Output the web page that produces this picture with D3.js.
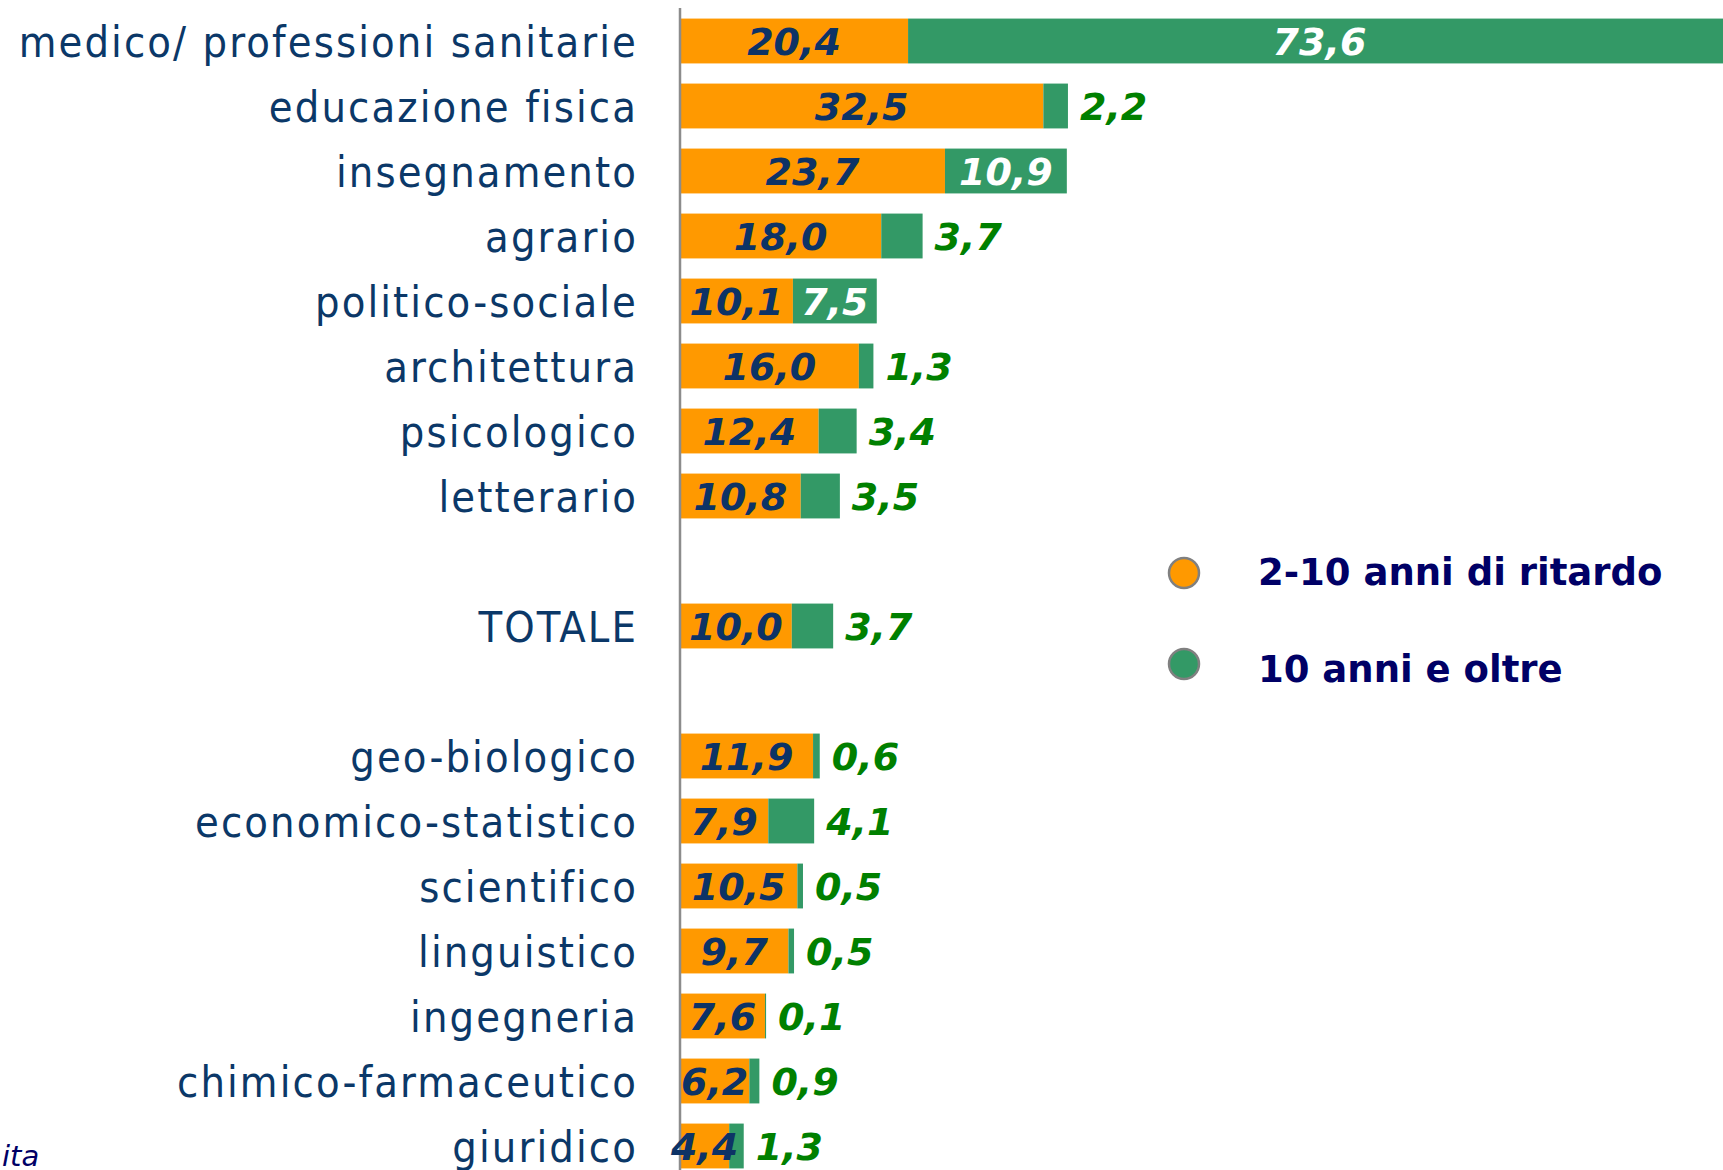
<!DOCTYPE html>
<html>
<head>
<meta charset="utf-8">
<script src="https://cdn.jsdelivr.net/npm/d3@7"></script>
<style>
  body { margin: 0; background: #fff; overflow: hidden; }
  svg { display: block; }
</style>
</head>
<body>
<div id="chart"></div>
<script>
/* ############### data ############### */
var categories = ["medico/ professioni sanitarie", "educazione fisica", "insegnamento", "agrario",
  "politico-sociale", "architettura", "psicologico", "letterario", "TOTALE",
  "geo-biologico", "economico-statistico", "scientifico", "linguistico", "ingegneria",
  "chimico-farmaceutico", "giuridico"];
var late2to10 = [20.4, 32.5, 23.7, 18.0, 10.1, 16.0, 12.4, 10.8, 10.0, 11.9, 7.9, 10.5, 9.7, 7.6, 6.2, 4.4];
var late10plus = [73.6, 2.2, 10.9, 3.7, 7.5, 1.3, 3.4, 3.5, 3.7, 0.6, 4.1, 0.5, 0.5, 0.1, 0.9, 1.3];
// empty slots around TOTALE
var slots = categories.slice(0, 8).concat(["_gap1", "TOTALE", "_gap2"]).concat(categories.slice(9));
var seriesNames = ["2-10 anni di ritardo", "10 anni e oltre"];
var seriesColors = ["#ff9900", "#339966"];
/* ########################################################## */

var width = 1723, height = 1170;
var fmt = function(v) { return d3.format(".1f")(v).replace(".", ","); };

var svg = d3.select("#chart").append("svg")
  .attr("width", width)
  .attr("height", height);

var x = d3.scaleLinear().domain([0, 100]).range([680, 1798]);
var y = d3.scaleBand().domain(slots).range([8.5, 8.5 + slots.length * 65]).padding(0);
var barH = y.bandwidth() * 0.69;

var rows = categories.map(function(c, i) {
  return { name: c, a: late2to10[i], b: late10plus[i] };
});

// category labels
svg.append("g").selectAll("text")
  .data(rows)
  .enter().append("text")
  .attr("x", 638)
  .attr("y", function(d) { return y(d.name) + y.bandwidth() / 2; })
  .attr("dy", "0.37em")
  .attr("text-anchor", "end")
  .style("font-family", "'DejaVu Sans Condensed', 'DejaVu Sans', sans-serif")
  .style("font-stretch", "condensed")
  .style("font-size", "43px")
  .style("letter-spacing", "2.1px")
  .style("fill", "#0b3868")
  .text(function(d) { return d.name; });

var bars = svg.append("g");

// orange segment
bars.selectAll("rect.a")
  .data(rows)
  .enter().append("rect")
  .attr("class", "a")
  .attr("x", x(0))
  .attr("y", function(d) { return y(d.name) + (y.bandwidth() - barH) / 2; })
  .attr("width", function(d) { return x(d.a) - x(0); })
  .attr("height", barH)
  .attr("fill", seriesColors[0]);

// green segment
bars.selectAll("rect.b")
  .data(rows)
  .enter().append("rect")
  .attr("class", "b")
  .attr("x", function(d) { return x(d.a); })
  .attr("y", function(d) { return y(d.name) + (y.bandwidth() - barH) / 2; })
  .attr("width", function(d) { return x(d.a + d.b) - x(d.a); })
  .attr("height", barH)
  .attr("fill", seriesColors[1]);

// axis line
svg.append("line")
  .attr("x1", x(0)).attr("x2", x(0))
  .attr("y1", 8).attr("y2", height)
  .attr("stroke", "#8c8c8c")
  .attr("stroke-width", 2.5);

var valueFont = function(sel) {
  sel.style("font-family", "'DejaVu Sans', Verdana, sans-serif")
    .style("font-size", "38px")
    .style("font-weight", "bold")
    .style("font-style", "italic");
};

// values of the first series, centred in the orange bar
svg.append("g").selectAll("text")
  .data(rows)
  .enter().append("text")
  .attr("x", function(d) { return (x(0) + x(d.a)) / 2; })
  .attr("y", function(d) { return y(d.name) + y.bandwidth() / 2; })
  .attr("dy", "0.36em")
  .attr("text-anchor", "middle")
  .call(valueFont)
  .style("fill", "#0d3366")
  .text(function(d) { return fmt(d.a); });

// values of the second series: inside in white if it fits, else outside in green
svg.append("g").selectAll("text")
  .data(rows)
  .enter().append("text")
  .each(function(d) { d.inside = (x(d.a + d.b) - x(d.a)) > 80; })
  .attr("x", function(d) {
    return d.inside ? (Math.min(x(d.a + d.b), x(100)) + x(d.a)) / 2 : x(d.a + d.b) + 12;
  })
  .attr("y", function(d) { return y(d.name) + y.bandwidth() / 2; })
  .attr("dy", "0.36em")
  .attr("text-anchor", function(d) { return d.inside ? "middle" : "start"; })
  .call(valueFont)
  .style("fill", function(d) { return d.inside ? "#ffffff" : "#008000"; })
  .text(function(d) { return fmt(d.b); });

// legend
var legend = svg.append("g").selectAll("g")
  .data(seriesNames)
  .enter().append("g")
  .attr("transform", function(d, i) { return "translate(1184," + (573 + i * 91) + ")"; });

legend.append("circle")
  .attr("r", 15)
  .attr("fill", function(d, i) { return seriesColors[i]; })
  .attr("stroke", "#808080")
  .attr("stroke-width", 2.5);

legend.append("text")
  .attr("x", 74)
  .attr("y", function(d, i) { return i == 0 ? 12 : 18; })
  .style("font-family", "'DejaVu Sans', Verdana, sans-serif")
  .style("font-size", "37px")
  .style("font-weight", "bold")
  .style("fill", "#000066")
  .text(function(d) { return d; });

// source note, cut off at the left edge in the original
svg.append("text")
  .attr("x", 2)
  .attr("y", 1166)
  .style("font-family", "'DejaVu Sans', Verdana, sans-serif")
  .style("font-size", "29px")
  .style("font-style", "italic")
  .style("fill", "#000066")
  .text("ita");
</script>
</body>
</html>
